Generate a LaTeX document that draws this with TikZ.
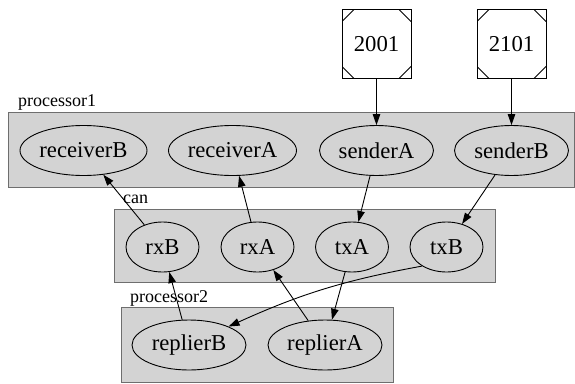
\documentclass[tikz,border=0pt]{standalone}
\usepackage{fontspec}
\setmainfont{Liberation Serif}
\usetikzlibrary{shapes.geometric,arrows.meta}
\definecolor{clfill}{RGB}{211,211,211}
\definecolor{clline}{RGB}{110,110,110}
\begin{document}
\begin{tikzpicture}[x=1pt,y=-1pt,
  cluster/.style={fill=clfill,draw=clline,line width=0.8pt},
  clabel/.style={anchor=base west,inner sep=0pt,font=\fontsize{18}{20}\selectfont},
  ell/.style={ellipse,draw,line width=0.9pt,inner sep=0pt,minimum height=50pt,font=\fontsize{22.7}{26}\selectfont},
  port/.style={rectangle,draw,fill=white,line width=0.9pt,minimum width=69pt,minimum height=69pt,inner sep=0pt,
    font=\fontsize{22.7}{26}\selectfont,
    path picture={
      \draw[line width=0.9pt] ([xshift=12pt]path picture bounding box.north west) -- ([yshift=-12pt]path picture bounding box.north west);
      \draw[line width=0.9pt] ([xshift=-12pt]path picture bounding box.north east) -- ([yshift=-12pt]path picture bounding box.north east);
      \draw[line width=0.9pt] ([xshift=12pt]path picture bounding box.south west) -- ([yshift=12pt]path picture bounding box.south west);
      \draw[line width=0.9pt] ([xshift=-12pt]path picture bounding box.south east) -- ([yshift=12pt]path picture bounding box.south east);
    }},
  link/.style={line width=0.9pt,-{Triangle[length=11pt,width=7.5pt]}},
]
\useasboundingbox (0,0) rectangle (575,383);

% clusters
\path[cluster] (8,112.7) rectangle (574,187);
\node[clabel] (lp1) at (18,106) {processor1};
\path[cluster] (114,209) rectangle (495,282);
\node[clabel] (lcan) at (123,203) {can};
\path[cluster] (121,307) rectangle (393,382);
\node[clabel] (lp2) at (130,302) {processor2};

% processor1
\node[ell,minimum width=127pt] (receiverB) at (83.5,150.5) {receiverB};
\node[ell,minimum width=128pt] (receiverA) at (232.5,150.5) {receiverA};
\node[ell,minimum width=114pt] (senderA) at (376.5,150.5) {senderA};
\node[ell,minimum width=114pt] (senderB) at (511.5,150.5) {senderB};

% can
\node[ell,minimum width=73pt] (rxB) at (162.5,247) {rxB};
\node[ell,minimum width=73pt] (rxA) at (257.5,247) {rxA};
\node[ell,minimum width=73pt] (txA) at (352,247) {txA};
\node[ell,minimum width=73pt] (txB) at (446.5,247) {txB};

% processor2
\node[ell,minimum width=114pt] (replierB) at (189,345) {replierB};
\node[ell,minimum width=114pt] (replierA) at (325,345) {replierA};

% ports
\node[port] (p2001) at (376.5,44) {2001};
\node[port] (p2101) at (511.5,44) {2101};

% edges
\draw[link] (p2001) -- (senderA);
\draw[link] (p2101) -- (senderB);
\draw[link] (rxB) -- (receiverB);
\draw[link] (rxA) -- (receiverA);
\draw[link] (senderA) -- (txA);
\draw[link] (senderB) -- (txB);
\draw[link] (txA) -- (replierA);
\draw[link] (replierA) -- (rxA);
\draw[link] (replierB) -- (rxB);
\draw[link] (txB.218) to[bend right=7] (replierB.25);
\end{tikzpicture}
\end{document}
